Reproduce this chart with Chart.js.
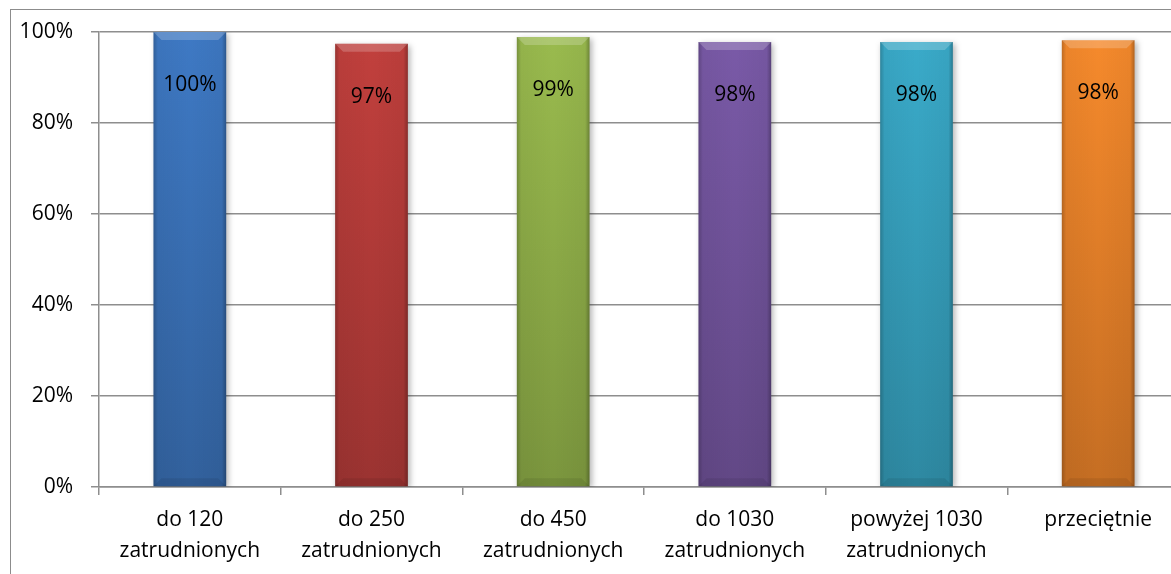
<!DOCTYPE html>
<html>
<head>
<meta charset="utf-8">
<script src="https://cdn.jsdelivr.net/npm/chart.js@4"></script>
<style>
  html, body { margin: 0; padding: 0; background: #fff; overflow: hidden; }
  #box { position: absolute; left: 10px; top: 9px; border: 1px solid #8c8c8c; background: #fff; }
  canvas { display: block; }
</style>
</head>
<body>
<div id="box"><canvas id="chart" width="1180" height="600"></canvas></div>
<script>
const categories = [
  ['do 120', 'zatrudnionych'],
  ['do 250', 'zatrudnionych'],
  ['do 450', 'zatrudnionych'],
  ['do 1030', 'zatrudnionych'],
  ['powyżej 1030', 'zatrudnionych'],
  ['przeciętnie']
]
const values = [100, 97.4, 98.9, 97.8, 97.8, 98.2]
const barColors = ['#3e79c4', '#c2403d', '#9abb4e', '#7a5aa8', '#3aabca', '#f68a2c']
const yMax = 100
const yStep = 20

const FONT = '"Open Sans", sans-serif'
const GRID = '#8e8e8e'

// mix a hex colour with black (f < 0) or white (f > 0)
function shade(hex, f) {
  const n = parseInt(hex.slice(1), 16)
  let r = n >> 16, g = (n >> 8) & 255, b = n & 255
  const t = f < 0 ? 0 : 255, p = Math.abs(f)
  r = Math.round(r + (t - r) * p)
  g = Math.round(g + (t - g) * p)
  b = Math.round(b + (t - b) * p)
  return `rgb(${r},${g},${b})`
}

function barFill(ctx) {
  const base = barColors[ctx.dataIndex]
  const area = ctx.chart.chartArea
  if (!area) return base
  const g = ctx.chart.ctx.createLinearGradient(0, area.top, 0, area.bottom)
  g.addColorStop(0, base)
  g.addColorStop(1, shade(base, -0.2))
  return g
}

// darker edges, light bevel on top, shadow
const barShine = {
  id: 'barShine',
  beforeDatasetsDraw(chart) {
    const c = chart.ctx
    c.save()
    c.shadowColor = 'rgba(0,0,0,0.3)'
    c.shadowBlur = 6
    c.shadowOffsetX = 2
    c.shadowOffsetY = 2
  },
  afterDatasetsDraw(chart) {
    const c = chart.ctx
    c.restore()
    const meta = chart.getDatasetMeta(0)
    meta.data.forEach((bar, i) => {
      const { x, y, base, width } = bar.getProps(['x', 'y', 'base', 'width'], true)
      const l = x - width / 2, r = x + width / 2
      c.save()
      const h = c.createLinearGradient(l, 0, r, 0)
      h.addColorStop(0, 'rgba(0,0,0,0.22)')
      h.addColorStop(0.06, 'rgba(0,0,0,0.04)')
      h.addColorStop(0.5, 'rgba(0,0,0,0)')
      h.addColorStop(0.94, 'rgba(0,0,0,0.04)')
      h.addColorStop(1, 'rgba(0,0,0,0.28)')
      c.fillStyle = h
      c.fillRect(l, y, width, base - y)
      // top bevel
      const bv = 8
      c.beginPath()
      c.moveTo(l, y)
      c.lineTo(r, y)
      c.lineTo(r - bv, y + bv)
      c.lineTo(l + bv, y + bv)
      c.closePath()
      c.fillStyle = 'rgba(255,255,255,0.2)'
      c.fill()
      // bottom bevel
      c.beginPath()
      c.moveTo(l, base)
      c.lineTo(r, base)
      c.lineTo(r - bv, base - bv)
      c.lineTo(l + bv, base - bv)
      c.closePath()
      c.fillStyle = 'rgba(0,0,0,0.08)'
      c.fill()
      c.restore()

      // value label
      c.save()
      c.font = `21px ${FONT}`
      c.fillStyle = '#000'
      c.textAlign = 'center'
      c.textBaseline = 'middle'
      c.fillText(Math.round(values[i]) + '%', x, y + 53)
      c.restore()
    })
  }
}

new Chart(document.getElementById('chart'), {
  type: 'bar',
  data: {
    labels: categories,
    datasets: [{
      data: values,
      backgroundColor: barFill,
      borderWidth: 0,
      categoryPercentage: 1,
      barPercentage: 0.4
    }]
  },
  options: {
    responsive: false,
    animation: false,
    layout: { padding: { top: 22, right: 2, left: 0, bottom: 0 } },
    plugins: {
      legend: { display: false },
      tooltip: { enabled: false }
    },
    scales: {
      x: {
        offset: true,
        grid: { offset: true, drawOnChartArea: false, color: GRID, lineWidth: 1.5, tickLength: 8 },
        border: { color: GRID, width: 1.5 },
        ticks: {
          color: '#000',
          padding: 10,
          maxRotation: 0,
          font: { family: FONT, size: 21, lineHeight: 1.45 }
        },
        afterFit: scale => {
          scale.height = 123
          scale.paddingLeft = 0
          scale.paddingRight = 0
        }
      },
      y: {
        min: 0,
        max: yMax,
        ticks: {
          stepSize: yStep,
          color: '#000',
          padding: 18,
          font: { family: FONT, size: 21 },
          callback: v => v + '%'
        },
        grid: { color: GRID, lineWidth: 1.5, tickLength: 8 },
        border: { color: GRID, width: 1.5 },
        afterFit: scale => {
          scale.width = 88
          scale.paddingTop = 0
          scale.paddingBottom = 0
        }
      }
    }
  },
  plugins: [barShine]
})
</script>
</body>
</html>
